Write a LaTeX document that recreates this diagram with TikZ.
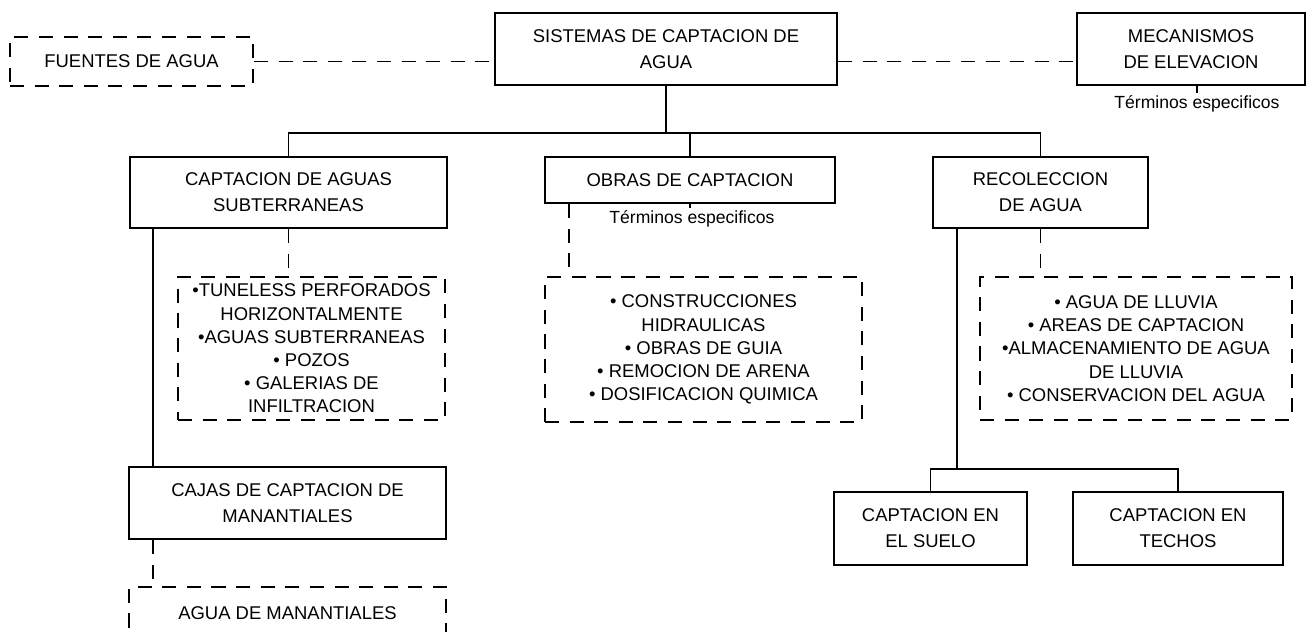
\documentclass[tikz,border=0pt]{standalone}
\usepackage{fontspec}
\setmainfont{Liberation Sans}
\begin{document}
\begin{tikzpicture}[
    box/.style={draw, line width=1.1pt, align=center, inner sep=0pt,
        font={\fontsize{10.5}{14.8}\selectfont}},
    dbox/.style={draw, line width=1.05pt, dash pattern=on 8pt off 6pt,
        align=center, inner sep=0pt, font={\fontsize{10.5}{13.2}\selectfont}},
    link/.style={line width=0.9pt},
    dlink/.style={line width=1pt, dash pattern=on 8pt off 6pt},
    note/.style={inner sep=1pt, font={\fontsize{10}{12}\selectfont}}
]
    \useasboundingbox (0,0) rectangle (26.2,-12.64);

    % Top row
    \node [dbox, minimum width=4.86cm, minimum height=0.98cm] (fuentes) at (2.63,-1.23) {FUENTES DE AGUA};
    \node [box, minimum width=6.84cm, minimum height=1.44cm] (sistemas) at (13.32,-0.98) {SISTEMAS DE CAPTACION DE\\AGUA};
    \node [box, minimum width=4.56cm, minimum height=1.44cm] (mecanismos) at (23.82,-0.98) {MECANISMOS\\DE ELEVACION};
    \node [note, anchor=north] (terminosA) at (23.94,-1.86) {Términos especificos};

    % Second row
    \node [box, minimum width=6.34cm, minimum height=1.42cm] (sub) at (5.77,-3.85) {CAPTACION DE AGUAS\\SUBTERRANEAS};
    \node [box, minimum width=5.8cm, minimum height=0.92cm] (obras) at (13.8,-3.6) {OBRAS DE CAPTACION};
    \node [note, anchor=north] (terminosB) at (13.84,-4.16) {Términos especificos};
    \node [box, minimum width=4.3cm, minimum height=1.42cm] (recol) at (20.81,-3.85) {RECOLECCION\\DE AGUA};

    % Dashed lists
    \node [dbox, minimum width=5.34cm, minimum height=2.86cm] (list1) at (6.23,-6.97)
        {\textbullet TUNELESS PERFORADOS\\HORIZONTALMENTE\\\textbullet AGUAS SUBTERRANEAS\\\textbullet{} POZOS\\\textbullet{} GALERIAS DE\\INFILTRACION};
    \node [dbox, minimum width=6.34cm, minimum height=2.9cm] (list2) at (14.07,-6.99)
        {\textbullet{} CONSTRUCCIONES\\HIDRAULICAS\\\textbullet{} OBRAS DE GUIA\\\textbullet{} REMOCION DE ARENA\\\textbullet{} DOSIFICACION QUIMICA};
    \node [dbox, minimum width=6.24cm, minimum height=2.86cm] (list3) at (22.72,-6.97)
        {\textbullet{} AGUA DE LLUVIA\\\textbullet{} AREAS DE CAPTACION\\\textbullet ALMACENAMIENTO DE AGUA\\DE LLUVIA\\\textbullet{} CONSERVACION DEL AGUA};

    % Bottom
    \node [box, minimum width=6.34cm, minimum height=1.44cm] (cajas) at (5.75,-10.06) {CAJAS DE CAPTACION DE\\MANANTIALES};
    \node [dbox, minimum width=6.34cm, minimum height=1.06cm] (manantial) at (5.75,-12.27) {AGUA DE MANANTIALES};
    \node [box, minimum width=3.86cm, minimum height=1.46cm] (suelo) at (18.61,-10.57) {CAPTACION EN\\EL SUELO};
    \node [box, minimum width=4.2cm, minimum height=1.46cm] (techos) at (23.56,-10.57) {CAPTACION EN\\TECHOS};

    % Helper coordinates
    \coordinate (busy) at (0,-2.66);
    \coordinate (subbusy) at (0,-9.38);
    \coordinate (leftx) at (3.06,0);

    % Connections
    \draw [dlink] (fuentes.east) -- (fuentes.east -| sistemas.west);
    \draw [dlink] (fuentes.east -| sistemas.east) -- (fuentes.east -| mecanismos.west);
    \draw [link] (sistemas.south) -- (sistemas.south |- busy);
    \draw [link] (sub.north) -- (sub.north |- busy) -- (recol.north |- busy) -- (recol.north);
    \draw [link] (obras.north) -- (obras.north |- busy);
    \draw [link] (mecanismos.south -| terminosA.north) -- (terminosA.north);
    \draw [link] (obras.south) -- (obras.south |- terminosB.north);

    \draw [dlink] (sub.south) -- (sub.south |- list1.north);
    \draw [link] (sub.south -| leftx) -- (cajas.north -| leftx);
    \draw [dlink] (cajas.south -| leftx) -- (manantial.north -| leftx);
    \draw [dlink] ([xshift=0.5cm]obras.south west) -- ([xshift=0.5cm]obras.south west |- list2.north);
    \draw [dlink] (recol.south) -- (recol.south |- list3.north);
    \draw [link] ([xshift=0.5cm]recol.south west) -- ([xshift=0.5cm]recol.south west |- subbusy);
    \draw [link] (suelo.north) -- (suelo.north |- subbusy) -- (techos.north |- subbusy) -- (techos.north);
\end{tikzpicture}
\end{document}
